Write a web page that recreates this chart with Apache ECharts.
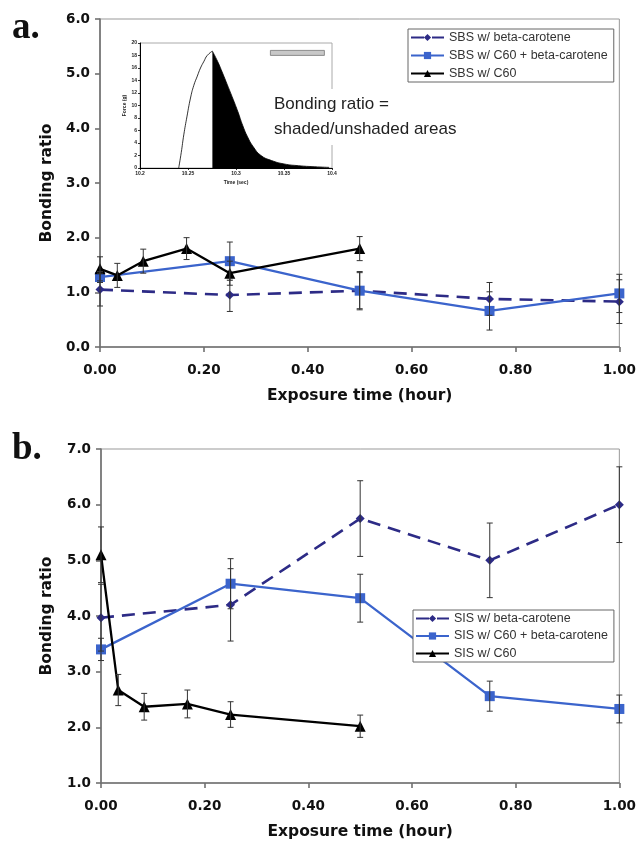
<!DOCTYPE html>
<html><head><meta charset="utf-8">
<script src="https://cdn.jsdelivr.net/npm/echarts@6/dist/echarts.min.js"></script>
<style>html,body{margin:0;padding:0;background:#fff}#c{width:639px;height:842px}</style>
</head><body><div id="c"></div>
<script>
// ---------- data ----------
const timeBC = [0, 0.25, 0.5, 0.75, 1.0];
const timeC60 = [0, 0.0333, 0.0833, 0.1667, 0.25, 0.5];

const sbsBC = [1.05, 0.95, 1.03, 0.88, 0.83];
const sbsBCErr = [0.30, 0.30, 0.33, 0.30, 0.40];
const sbsC60BC = [1.28, 1.57, 1.03, 0.66, 0.98];
const sbsC60BCErr = [0.10, 0.35, 0.35, 0.35, 0.35];
const sbsC60 = [1.43, 1.31, 1.57, 1.80, 1.35, 1.80];
const sbsC60Err = [0.22, 0.22, 0.22, 0.20, 0.22, 0.22];

const sisBC = [3.97, 4.20, 5.75, 5.00, 6.00];
const sisBCErr = [0.60, 0.65, 0.68, 0.67, 0.68];
const sisC60BC = [3.40, 4.58, 4.32, 2.56, 2.33];
const sisC60BCErr = [0.20, 0.45, 0.43, 0.27, 0.25];
const sisC60 = [5.10, 2.67, 2.37, 2.42, 2.23, 2.02];
const sisC60Err = [0.50, 0.28, 0.24, 0.25, 0.23, 0.20];

const namesA = ['SBS w/ beta-carotene', 'SBS w/ C60 + beta-carotene', 'SBS w/ C60'];
const namesB = ['SIS w/ beta-carotene', 'SIS w/ C60 + beta-carotene', 'SIS w/ C60'];

// inset force curve (time in sec, force in g)
const insetRiseT = [10.2403, 10.243, 10.2456, 10.249, 10.2526, 10.256, 10.2597, 10.263, 10.2667, 10.270, 10.2754];
const insetRiseF = [0, 2.5, 5.3, 8.3, 11.2, 13.2, 14.7, 16.0, 17.1, 18.0, 18.7];
const insetFallT = [10.2754, 10.281, 10.286, 10.291, 10.297, 10.302, 10.307, 10.312, 10.318, 10.326, 10.337, 10.350, 10.365, 10.382, 10.397];
const insetFallF = [18.7, 17.0, 15.2, 13.3, 11.0, 9.0, 6.8, 5.0, 3.4, 2.0, 1.2, 0.65, 0.37, 0.2, 0.1];

// ---------- styles ----------
const NAVY = '#2D2B86', BLUE = '#3B64CC', BLACK = '#000000';
const AXC = '#707070';
const tickFont = {fontFamily: 'DejaVu Sans', fontWeight: 'bold', fontSize: 13.5, color: '#111'};

const zip = (xs, ys) => xs.map((x, i) => [x, ys[i]]);
const zip3 = (xs, ys, es) => xs.map((x, i) => [x, ys[i], es[i]]);

function lineSeries(name, xs, ys, color, symbol, size, dashed, gi, z) {
  return {
    name, type: 'line', xAxisIndex: gi, yAxisIndex: gi, data: zip(xs, ys),
    symbol, symbolSize: size, showSymbol: true, z: z,
    itemStyle: {color},
    lineStyle: {color, width: dashed ? 2.6 : 2.3, type: dashed ? [13, 8] : 'solid'},
    animation: false
  };
}
function errSeries(xs, ys, es, gi) {
  return {
    type: 'custom', xAxisIndex: gi, yAxisIndex: gi, data: zip3(xs, ys, es), z: 5,
    encode: {x: 0, y: 1}, silent: true, animation: false,
    renderItem: function (params, api) {
      const x = api.value(0), y = api.value(1), e = api.value(2);
      const t = api.coord([x, y + e]), b = api.coord([x, y - e]);
      const st = {stroke: '#333', lineWidth: 1};
      return {type: 'group', children: [
        {type: 'line', shape: {x1: t[0], y1: t[1], x2: b[0], y2: b[1]}, style: st},
        {type: 'line', shape: {x1: t[0] - 3, y1: t[1], x2: t[0] + 3, y2: t[1]}, style: st},
        {type: 'line', shape: {x1: b[0] - 3, y1: b[1], x2: b[0] + 3, y2: b[1]}, style: st}
      ]};
    }
  };
}
function mainX(gi) {
  return {
    type: 'value', gridIndex: gi, min: 0, max: 1, interval: 0.2,
    name: 'Exposure time (hour)', nameLocation: 'middle', nameGap: 41,
    nameTextStyle: {fontFamily: 'DejaVu Sans', fontWeight: 'bold', fontSize: 15.5, color: '#111'},
    axisLine: {lineStyle: {color: AXC, width: 1.6}},
    axisTick: {show: true, inside: false, length: 5, lineStyle: {color: AXC, width: 1.6}},
    axisLabel: Object.assign({margin: 16, formatter: v => v.toFixed(2)}, tickFont),
    splitLine: {show: false}
  };
}
function mainY(gi, min, max, gap) {
  return {
    type: 'value', gridIndex: gi, min, max, interval: 1,
    name: 'Bonding ratio', nameLocation: 'middle', nameGap: gap,
    nameTextStyle: {fontFamily: 'DejaVu Sans', fontWeight: 'bold', fontSize: 15.5, color: '#111'},
    axisLine: {show: true, lineStyle: {color: AXC, width: 1.6}},
    axisTick: {show: true, inside: false, length: 5, lineStyle: {color: AXC, width: 1.6}},
    axisLabel: Object.assign({margin: 10, formatter: v => v.toFixed(1)}, tickFont),
    splitLine: {show: false}
  };
}
const insetFont = {fontFamily: 'Liberation Sans', fontWeight: 'bold', fontSize: 5, color: '#222'};

const option = {
  backgroundColor: '#ffffff',
  animation: false,
  grid: [
    {left: 100, top: 19, width: 520, height: 328, show: true, borderColor: '#999', borderWidth: 1, backgroundColor: 'transparent'},
    {left: 101, top: 449, width: 520, height: 334, show: true, borderColor: '#999', borderWidth: 1, backgroundColor: 'transparent'},
    {left: 140, top: 43, width: 192, height: 125, show: true, borderColor: '#aaa', borderWidth: 1, backgroundColor: '#fff'}
  ],
  xAxis: [
    mainX(0), mainX(1),
    {type: 'value', gridIndex: 2, min: 10.2, max: 10.4, interval: 0.05,
      name: 'Time (sec)', nameLocation: 'middle', nameGap: 12, nameTextStyle: insetFont,
      axisLine: {lineStyle: {color: '#000', width: 1}},
      axisTick: {show: true, length: 2, lineStyle: {color: '#000', width: 0.8}},
      axisLabel: Object.assign({margin: 3, formatter: v => String(parseFloat(v.toFixed(2)))}, insetFont),
      splitLine: {show: false}}
  ],
  yAxis: [
    mainY(0, 0, 6, 45), mainY(1, 1, 7, 46),
    {type: 'value', gridIndex: 2, min: 0, max: 20, interval: 2,
      name: 'Force (g)', nameLocation: 'middle', nameGap: 12, nameTextStyle: insetFont,
      axisLine: {show: true, lineStyle: {color: '#000', width: 1}},
      axisTick: {show: true, length: 2, lineStyle: {color: '#000', width: 0.8}},
      axisLabel: Object.assign({margin: 3}, insetFont),
      splitLine: {show: false}}
  ],
  legend: [
    {data: namesA, orient: 'vertical', left: 408, top: 29, padding: [2, 6, 2, 2],
      itemWidth: 33, itemHeight: 9, itemGap: 5, backgroundColor: '#fff',
      borderColor: '#666', borderWidth: 1, borderRadius: 0,
      textStyle: {fontFamily: 'Liberation Sans', fontSize: 12.5, color: '#333', lineHeight: 13}},
    {data: namesB, orient: 'vertical', left: 413, top: 610, padding: [2, 6, 2, 2],
      itemWidth: 33, itemHeight: 9, itemGap: 4.5, backgroundColor: '#fff',
      borderColor: '#666', borderWidth: 1, borderRadius: 0,
      textStyle: {fontFamily: 'Liberation Sans', fontSize: 12.5, color: '#333', lineHeight: 13}}
  ],
  series: [
    errSeries(timeBC, sbsBC, sbsBCErr, 0),
    errSeries(timeBC, sbsC60BC, sbsC60BCErr, 0),
    errSeries(timeC60, sbsC60, sbsC60Err, 0),
    lineSeries(namesA[0], timeBC, sbsBC, NAVY, 'diamond', 9, true, 0, 2),
    lineSeries(namesA[1], timeBC, sbsC60BC, BLUE, 'rect', 10, false, 0, 3),
    lineSeries(namesA[2], timeC60, sbsC60, BLACK, 'triangle', 11, false, 0, 4),
    errSeries(timeBC, sisBC, sisBCErr, 1),
    errSeries(timeBC, sisC60BC, sisC60BCErr, 1),
    errSeries(timeC60, sisC60, sisC60Err, 1),
    lineSeries(namesB[0], timeBC, sisBC, NAVY, 'diamond', 9, true, 1, 2),
    lineSeries(namesB[1], timeBC, sisC60BC, BLUE, 'rect', 10, false, 1, 3),
    lineSeries(namesB[2], timeC60, sisC60, BLACK, 'triangle', 11, false, 1, 4),
    {type: 'line', xAxisIndex: 2, yAxisIndex: 2, data: zip(insetRiseT, insetRiseF), symbol: 'none', smooth: true,
      lineStyle: {color: '#000', width: 0.8}, z: 6},
    {type: 'line', xAxisIndex: 2, yAxisIndex: 2, data: zip(insetFallT, insetFallF), symbol: 'none', smooth: true,
      lineStyle: {color: '#000', width: 0.8}, areaStyle: {color: '#000', opacity: 1}, z: 6}
  ],
  graphic: [
    {type: 'text', left: 12, top: 10, z: 100, style: {text: 'a.', font: 'bold 37px "Liberation Serif"', fill: '#111'}},
    {type: 'text', left: 12, top: 431, z: 100, style: {text: 'b.', font: 'bold 37px "Liberation Serif"', fill: '#111'}},
    {type: 'rect', left: 270, top: 50, z: 100, shape: {width: 54, height: 5}, style: {fill: '#c8c8c8', stroke: '#777', lineWidth: 0.8}},
    {type: 'text', left: 272, top: 89, z: 100, style: {
      text: 'Bonding ratio =\nshaded/unshaded areas', font: '17px "Liberation Sans"', fill: '#222',
      lineHeight: 25, backgroundColor: '#fff', padding: [3, 4, 3, 2]}}
  ]
};
const chart = echarts.init(document.getElementById('c'), null, {renderer: 'canvas'});
chart.setOption(option);
</script></body></html>
